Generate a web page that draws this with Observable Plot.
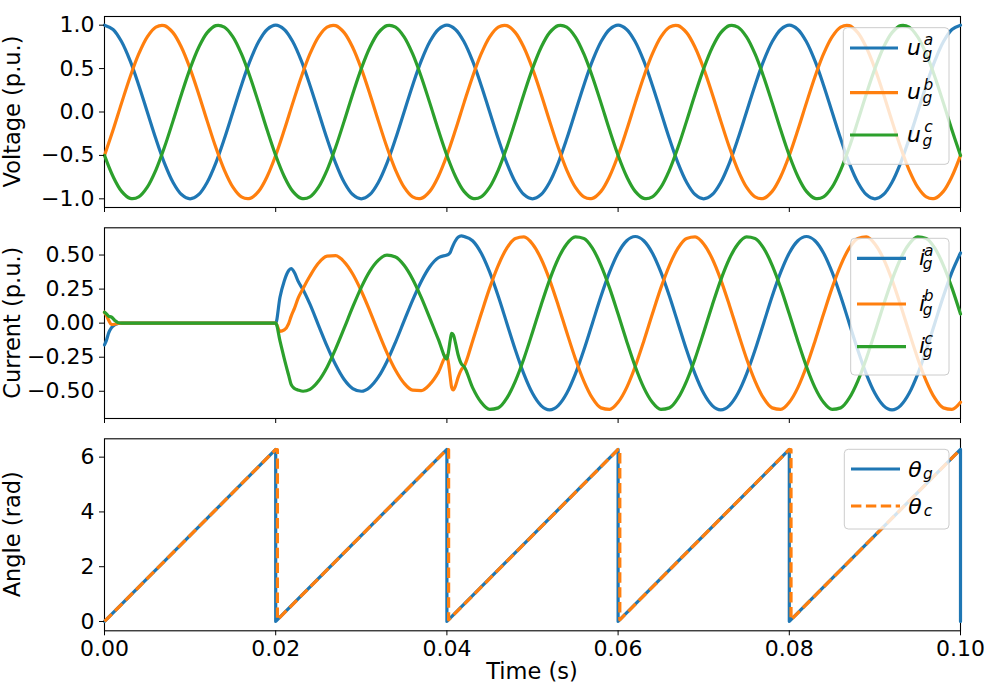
<!DOCTYPE html>
<html><head><meta charset="utf-8">
<script src="https://cdn.jsdelivr.net/npm/d3@7"></script>
<script src="https://cdn.jsdelivr.net/npm/@observablehq/plot@0.6"></script>
<style>
body{margin:0;background:#fff;}
#chart{width:1000px;height:700px;position:relative;background:#fff;}
#chart svg{display:block;}
</style></head><body><div id="chart"></div>
<script>
// ---------- data ----------
const xTicks = [0, 0.02, 0.04, 0.06, 0.08, 0.10];
const xTickLabels = ["0.00", "0.02", "0.04", "0.06", "0.08", "0.10"];
const voltTicks = [-1, -0.5, 0, 0.5, 1];
const voltTickLabels = ["−1.0", "−0.5", "0.0", "0.5", "1.0"];
const curTicks = [-0.5, -0.25, 0, 0.25, 0.5];
const curTickLabels = ["−0.50", "−0.25", "0.00", "0.25", "0.50"];
const angTicks = [0, 2, 4, 6];
const angTickLabels = ["0", "2", "4", "6"];

const panelLabels = ["Voltage (p.u.)", "Current (p.u.)", "Angle (rad)"];
const xLabel = "Time (s)";
const voltLegend = [{base: "u", sub: "g", sup: "a"}, {base: "u", sub: "g", sup: "b"}, {base: "u", sub: "g", sup: "c"}];
const curLegend = [{base: "i", sub: "g", sup: "a"}, {base: "i", sub: "g", sup: "b"}, {base: "i", sub: "g", sup: "c"}];
const angLegend = [{base: "θ", sub: "g"}, {base: "θ", sub: "c"}];

// voltage, time in ms
const tVoltMs = [
  0,1,2,3,4,5,6,7,8,9,10,11,12,13,14,15,16,17,18,19,
  20,21,22,23,24,25,26,27,28,29,30,31,32,33,34,35,36,37,38,39,
  40,41,42,43,44,45,46,47,48,49,50,51,52,53,54,55,56,57,58,59,
  60,61,62,63,64,65,66,67,68,69,70,71,72,73,74,75,76,77,78,79,
  80,81,82,83,84,85,86,87,88,89,90,91,92,93,94,95,96,97,98,99,
  100];
const uA = [
  1,0.951,0.809,0.588,0.309,0,-0.309,-0.588,-0.809,-0.951,-1,-0.951,-0.809,-0.588,-0.309,0,0.309,0.588,0.809,0.951,
  1,0.951,0.809,0.588,0.309,0,-0.309,-0.588,-0.809,-0.951,-1,-0.951,-0.809,-0.588,-0.309,0,0.309,0.588,0.809,0.951,
  1,0.951,0.809,0.588,0.309,0,-0.309,-0.588,-0.809,-0.951,-1,-0.951,-0.809,-0.588,-0.309,0,0.309,0.588,0.809,0.951,
  1,0.951,0.809,0.588,0.309,0,-0.309,-0.588,-0.809,-0.951,-1,-0.951,-0.809,-0.588,-0.309,0,0.309,0.588,0.809,0.951,
  1,0.951,0.809,0.588,0.309,0,-0.309,-0.588,-0.809,-0.951,-1,-0.951,-0.809,-0.588,-0.309,0,0.309,0.588,0.809,0.951,
  1];
const uB = [
  -0.5,-0.208,0.105,0.407,0.669,0.866,0.978,0.995,0.914,0.743,0.5,0.208,-0.105,-0.407,-0.669,-0.866,-0.978,-0.995,-0.914,-0.743,
  -0.5,-0.208,0.105,0.407,0.669,0.866,0.978,0.995,0.914,0.743,0.5,0.208,-0.105,-0.407,-0.669,-0.866,-0.978,-0.995,-0.914,-0.743,
  -0.5,-0.208,0.105,0.407,0.669,0.866,0.978,0.995,0.914,0.743,0.5,0.208,-0.105,-0.407,-0.669,-0.866,-0.978,-0.995,-0.914,-0.743,
  -0.5,-0.208,0.105,0.407,0.669,0.866,0.978,0.995,0.914,0.743,0.5,0.208,-0.105,-0.407,-0.669,-0.866,-0.978,-0.995,-0.914,-0.743,
  -0.5,-0.208,0.105,0.407,0.669,0.866,0.978,0.995,0.914,0.743,0.5,0.208,-0.105,-0.407,-0.669,-0.866,-0.978,-0.995,-0.914,-0.743,
  -0.5];
const uC = [
  -0.5,-0.743,-0.914,-0.995,-0.978,-0.866,-0.669,-0.407,-0.105,0.208,0.5,0.743,0.914,0.995,0.978,0.866,0.669,0.407,0.105,-0.208,
  -0.5,-0.743,-0.914,-0.995,-0.978,-0.866,-0.669,-0.407,-0.105,0.208,0.5,0.743,0.914,0.995,0.978,0.866,0.669,0.407,0.105,-0.208,
  -0.5,-0.743,-0.914,-0.995,-0.978,-0.866,-0.669,-0.407,-0.105,0.208,0.5,0.743,0.914,0.995,0.978,0.866,0.669,0.407,0.105,-0.208,
  -0.5,-0.743,-0.914,-0.995,-0.978,-0.866,-0.669,-0.407,-0.105,0.208,0.5,0.743,0.914,0.995,0.978,0.866,0.669,0.407,0.105,-0.208,
  -0.5,-0.743,-0.914,-0.995,-0.978,-0.866,-0.669,-0.407,-0.105,0.208,0.5,0.743,0.914,0.995,0.978,0.866,0.669,0.407,0.105,-0.208,
  -0.5];

// current, time in ms
const tCurMs = [
  0,0.2,0.5,0.8,1.2,1.6,2,11,20,
  20.5,21,21.5,21.8,22.2,22.6,23.2,
  24,25,26,27,28,29,30,31,32,33,34,35,36,37,38,39,40,
  40.2,40.4,40.55,40.75,41,41.3,41.7,
  42,43,44,45,46,47,48,49,50,51,52,53,54,55,56,57,58,59,60,61,
  62,63,64,65,66,67,68,69,70,71,72,73,74,75,76,77,78,79,80,81,
  82,83,84,85,86,87,88,89,90,91,92,93,94,95,96,97,98,99,100];
const iA = [
  -0.16,-0.13,-0.07,-0.035,-0.012,-0.002,0,0,0,
  0.19,0.31,0.385,0.40,0.37,0.31,0.245,
  0.139,-0.016,-0.169,-0.306,-0.414,-0.480,-0.500,-0.470,-0.395,-0.281,-0.139,0.016,0.169,0.306,0.414,0.480,0.500,
  0.505,0.52,0.545,0.575,0.605,0.63,0.64,
  0.636,0.605,0.515,0.374,0.197,0,-0.197,-0.374,-0.515,-0.605,-0.636,-0.605,-0.515,-0.374,-0.197,0,0.197,0.374,0.515,0.605,
  0.636,0.605,0.515,0.374,0.197,0,-0.197,-0.374,-0.515,-0.605,-0.636,-0.605,-0.515,-0.374,-0.197,0,0.197,0.374,0.515,0.605,
  0.636,0.605,0.515,0.374,0.197,0,-0.197,-0.374,-0.515,-0.605,-0.636,-0.605,-0.515,-0.374,-0.197,0,0.197,0.374,0.515];
const iB = [
  0.08,0.06,0.02,-0.01,-0.008,-0.001,0,0,0,
  -0.06,-0.05,-0.005,0.05,0.11,0.18,0.255,
  0.346,0.441,0.492,0.495,0.450,0.361,0.236,0.089,-0.068,-0.218,-0.346,-0.441,-0.492,-0.495,-0.450,-0.361,-0.236,
  -0.30,-0.40,-0.47,-0.49,-0.46,-0.40,-0.34,
  -0.318,-0.132,0.067,0.259,0.425,0.551,0.622,0.633,0.581,0.473,0.318,0.132,-0.067,-0.259,-0.425,-0.551,-0.622,-0.633,-0.581,-0.473,
  -0.318,-0.132,0.067,0.259,0.425,0.551,0.622,0.633,0.581,0.473,0.318,0.132,-0.067,-0.259,-0.425,-0.551,-0.622,-0.633,-0.581,-0.473,
  -0.318,-0.132,0.067,0.259,0.425,0.551,0.622,0.633,0.581,0.473,0.318,0.132,-0.067,-0.259,-0.425,-0.551,-0.622,-0.633,-0.581];
const iC = [
  0.08,0.07,0.05,0.045,0.02,0.003,0,0,0,
  -0.13,-0.26,-0.38,-0.45,-0.48,-0.49,-0.50,
  -0.486,-0.425,-0.323,-0.189,-0.037,0.119,0.263,0.382,0.463,0.499,0.486,0.425,0.323,0.189,0.037,-0.119,-0.263,
  -0.205,-0.12,-0.075,-0.085,-0.145,-0.23,-0.30,
  -0.318,-0.473,-0.581,-0.633,-0.622,-0.551,-0.425,-0.259,-0.067,0.132,0.318,0.473,0.581,0.633,0.622,0.551,0.425,0.259,0.067,-0.132,
  -0.318,-0.473,-0.581,-0.633,-0.622,-0.551,-0.425,-0.259,-0.067,0.132,0.318,0.473,0.581,0.633,0.622,0.551,0.425,0.259,0.067,-0.132,
  -0.318,-0.473,-0.581,-0.633,-0.622,-0.551,-0.425,-0.259,-0.067,0.132,0.318,0.473,0.581,0.633,0.622,0.551,0.425,0.259,0.067];

// angles
const tThetaG = [0, 0.02, 0.02, 0.04, 0.04, 0.06, 0.06, 0.08, 0.08, 0.10, 0.10];
const thetaG  = [0, 6.28, 0,    6.28, 0,    6.28, 0,    6.28, 0,    6.28, 0];
const tThetaC = [0, 0.02, 0.0202, 0.0202, 0.04, 0.0402, 0.0402, 0.06, 0.0602, 0.0602, 0.08, 0.0802, 0.0802, 0.10];
const thetaC  = [0, 6.28, 6.28,   0.06,   6.28, 6.28,   0.06,   6.28, 6.28,   0.06,   6.28, 6.28,   0.06,   6.28];

// ---------- drawing ----------
const colors = ["#1f77b4", "#ff7f0e", "#2ca02c"];
const font = "'DejaVu Sans', sans-serif";
const TICK_FS = 22, LABEL_FS = 22.5, LEG_FS = 22, LW = 3.2;

const voltData = tVoltMs.map((t, i) => ({t: t / 1000, a: uA[i], b: uB[i], c: uC[i]}));
const curData = tCurMs.map((t, i) => ({t: t / 1000, a: iA[i], b: iB[i], c: iC[i]}));
const thgData = tThetaG.map((t, i) => ({t, v: thetaG[i]}));
const thcData = tThetaC.map((t, i) => ({t, v: thetaC[i]}));

const lookup = (ticks, labels) => d => labels[ticks.findIndex(v => Math.abs(v - d) < 1e-9)];

function panel({height, mt, mb, yDomain, yTicks, yLabels, marks, showX}) {
  return Plot.plot({
    width: 1000, height,
    marginLeft: 104, marginRight: 40, marginTop: mt, marginBottom: mb,
    style: {fontFamily: font, fontSize: TICK_FS + "px", color: "black", background: "white", overflow: "visible"},
    x: {domain: [0, 0.1]},
    y: {domain: yDomain},
    marks: [
      Plot.frame({stroke: "black", strokeWidth: 1.1}),
      ...marks,
      Plot.axisY({ticks: yTicks, tickFormat: lookup(yTicks, yLabels), tickSize: 5, tickPadding: 5, label: null, fontSize: TICK_FS}),
      Plot.axisX({ticks: xTicks, tickFormat: showX ? lookup(xTicks, xTickLabels) : () => "", tickSize: 5, tickPadding: 5, label: null, fontSize: TICK_FS})
    ]
  });
}

const lineOpts = (y, color, curve) => ({x: "t", y, stroke: color, strokeWidth: LW, curve, strokeLinejoin: "round"});

const p1 = panel({
  height: 215, mt: 16, mb: 8, yDomain: [-1.1, 1.1], yTicks: voltTicks, yLabels: voltTickLabels,
  marks: ["a", "b", "c"].map((k, i) => Plot.line(voltData, lineOpts(k, colors[i], "catmull-rom")))
});
const p2 = panel({
  height: 215, mt: 12.3, mb: 12, yDomain: [-0.70, 0.70], yTicks: curTicks, yLabels: curTickLabels,
  marks: ["a", "b", "c"].map((k, i) => Plot.line(curData, lineOpts(k, colors[i], "monotone-x")))
});
const p3 = panel({
  height: 270, mt: 8.3, mb: 69.7, yDomain: [-0.34, 6.67], yTicks: angTicks, yLabels: angTickLabels, showX: true,
  marks: [
    Plot.line(thgData, {x: "t", y: "v", stroke: colors[0], strokeWidth: LW, strokeLinejoin: "round"}),
    Plot.line(thcData, {x: "t", y: "v", stroke: colors[1], strokeWidth: LW, strokeDasharray: "10.4,4.5", strokeLinecap: "butt", strokeLinejoin: "round"})
  ]
});

const chart = document.getElementById("chart");
[p1, p2, p3].forEach(p => chart.appendChild(p));

function yLabel(svg, text, cy) {
  d3.select(svg).append("text")
    .attr("transform", `translate(20,${cy}) rotate(-90)`)
    .attr("text-anchor", "middle").attr("font-family", font).attr("font-size", LABEL_FS)
    .attr("fill", "black").text(text);
}
yLabel(p1, panelLabels[0], (16 + 207) / 2);
yLabel(p2, panelLabels[1], (12.3 + 203) / 2);
yLabel(p3, panelLabels[2], (8.3 + 200.3) / 2);
d3.select(p3).append("text").attr("x", 532).attr("y", 249).attr("text-anchor", "middle")
  .attr("font-family", font).attr("font-size", LABEL_FS).attr("fill", "black").text(xLabel);

function addLegend(svg, box, rows) {
  const g = d3.select(svg).append("g");
  g.append("rect").attr("x", box.x).attr("y", box.y).attr("width", box.w).attr("height", box.h).attr("rx", 4)
    .attr("fill", "white").attr("fill-opacity", 0.8).attr("stroke", "#cccccc").attr("stroke-width", 1);
  rows.forEach(r => {
    g.append("line").attr("x1", box.lx1).attr("x2", box.lx2).attr("y1", r.y).attr("y2", r.y)
      .attr("stroke", r.color).attr("stroke-width", LW).attr("stroke-dasharray", r.dash || null);
    // one text element per legend entry; sup/sub as tspans stacked at the same x
    const t = g.append("text").attr("x", box.tx).attr("y", r.y + box.by)
      .attr("font-family", font).attr("font-style", "italic").attr("font-size", LEG_FS).attr("fill", "black");
    t.append("tspan").text(r.base);
    const w = t.node().getComputedTextLength();
    const small = LEG_FS * 0.7;
    if (r.sup) t.append("tspan").attr("x", box.tx + w + 0.5).attr("y", r.y + box.supdy).attr("font-size", small).text(r.sup);
    if (r.sub) t.append("tspan").attr("x", box.tx + w - 0.5).attr("y", r.y + box.subdy).attr("font-size", small).text(r.sub);
  });
}
const vRowY = [48, 92.7, 135];
addLegend(p1, {x: 843.3, y: 27.7, w: 105.7, h: 136.6, lx1: 850, lx2: 898, tx: 914, by: 6.5, supdy: -2.8, subdy: 10.5},
  voltLegend.map((d, i) => ({...d, y: vRowY[i], color: colors[i]})));
const cRowY = [43.3, 89, 131.7];
addLegend(p2, {x: 850.7, y: 23.3, w: 98.3, h: 136.7, lx1: 857, lx2: 906, tx: 922, by: 6.5, supdy: -2.8, subdy: 10.5},
  curLegend.map((d, i) => ({...d, y: cRowY[i], color: colors[i]})));
const aRowY = [39, 76];
addLegend(p3, {x: 844.3, y: 19.3, w: 104.7, h: 79.7, lx1: 851, lx2: 900, tx: 915, by: 7.7, supdy: -2.8, subdy: 10},
  angLegend.map((d, i) => ({...d, y: aRowY[i], color: colors[i], dash: i === 1 ? "10.4,4.5" : null})));
</script>
</body></html>
